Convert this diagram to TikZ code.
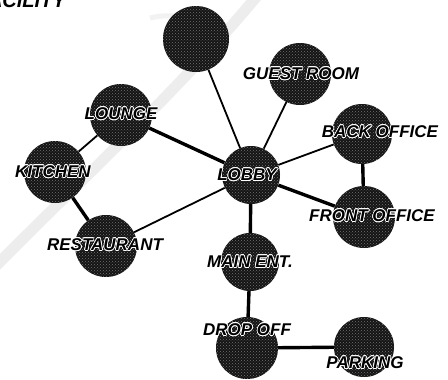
\documentclass[tikz,border=0pt]{standalone}
\usepackage{fontspec}
\setmainfont{Liberation Sans}
\usepackage{contour}
\contourlength{0.7pt}
\usetikzlibrary{patterns}
\begin{document}
\begin{tikzpicture}[x=1pt,y=-1pt,
  place/.style={circle,inner sep=0pt,minimum size=#1,
    preaction={fill=black!92},pattern=crosshatch dots,pattern color=black!55},
  place/.default=62pt,
  tag/.style={font=\fontsize{17}{17}\selectfont\bfseries\itshape,inner sep=0pt,text=black},
  thick link/.style={line width=3.4pt,black},
  thin link/.style={line width=1.8pt,black}]
\useasboundingbox (0,0) rectangle (448,380);
\fill[white] (0,0) rectangle (448,380);
% faint emblem arc in the background
\draw[gray!14,line width=11pt] (-10,272) .. controls (70,190) and (180,90) .. (262,-10);
\draw[gray!10,line width=5pt] (150,18) .. controls (185,10) and (200,25) .. (185,40);
% heading cut by the top edge
\node[anchor=base east,font=\fontsize{20}{20}\selectfont\bfseries\itshape,inner sep=0pt] (head) at (66,8) {FACILITY};

% places
\node[place=66pt] (spa)   at (196,39) {};
\node[place]      (guest) at (300,74) {};
\node[place]      (lounge) at (121,115) {};
\node[place]      (kitchen) at (55,172) {};
\node[place]      (rest)  at (106,246) {};
\node[place=58pt] (lobby) at (251,175) {};
\node[place=60pt] (back)  at (362,134) {};
\node[place]      (front) at (364,217) {};
\node[place=58pt] (main)  at (250,262) {};
\node[place]      (drop)  at (247,348) {};
\node[place=60pt] (park)  at (364,347) {};

% links
\draw[thin link]  (spa) -- (lobby);
\draw[thin link]  (guest) -- (lobby);
\draw[thick link] (lounge) -- (lobby);
\draw[thin link]  (lounge) -- (kitchen);
\draw[thick link] (kitchen) -- (rest);
\draw[thin link]  (rest) -- (lobby);
\draw[thin link]  (lobby) -- (back);
\draw[thick link] (lobby) -- (front);
\draw[thick link] (back) -- (front);
\draw[thick link] (lobby) -- (main);
\draw[thick link] (main) -- (drop);
\draw[thick link] (drop) -- (park);

% labels
\node[tag] (tguest)  at (301,74)  {\contour{white}{GUEST ROOM}};
\node[tag] (tlounge) at (121,114) {\contour{white}{LOUNGE}};
\node[tag] (tkitch)  at (53,172)  {\contour{white}{KITCHEN}};
\node[tag] (trest)   at (105,245) {\contour{white}{RESTAURANT}};
\node[tag] (tlobby)  at (247,175) {\contour{white}{LOBBY}};
\node[tag] (tback)   at (380,132) {\contour{white}{BACK OFFICE}};
\node[tag] (tfront)  at (372,216) {\contour{white}{FRONT OFFICE}};
\node[tag] (tmain)   at (250,262) {\contour{white}{MAIN ENT.}};
\node[tag] (tdrop)   at (247,330) {\contour{white}{DROP OFF}};
\node[tag] (tpark)   at (365,363) {\contour{white}{PARKING}};
\end{tikzpicture}
\end{document}
